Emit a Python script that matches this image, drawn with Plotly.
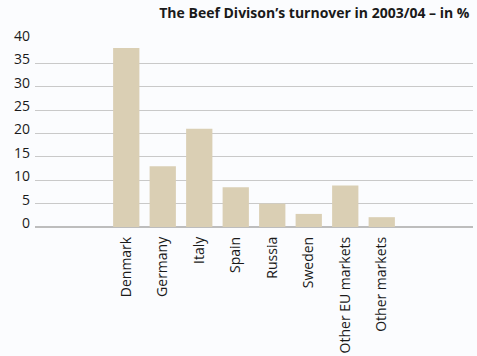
import plotly.graph_objects as go

# Share of the Beef Division's turnover by market, 2003/04 (%)
markets = ["Denmark", "Germany", "Italy", "Spain", "Russia", "Sweden",
           "Other EU markets", "Other markets"]
shares = [38.3, 13.0, 21.0, 8.5, 5.0, 2.8, 8.9, 2.1]
y_ticks = [0, 5, 10, 15, 20, 25, 30, 35, 40]

BAR = "#dacfb4"
GRID = "#c9c9c9"
BG = "#fbfcfe"
FONT = "Open Sans"

fig = go.Figure(
    go.Bar(x=markets, y=shares, marker=dict(color=BAR, line=dict(width=0)))
)

fig.update_layout(
    width=477, height=356,
    margin=dict(l=35, r=4, t=40, b=129),
    paper_bgcolor=BG, plot_bgcolor=BG,
    bargap=0.28,
    showlegend=False,
    font=dict(family=FONT, size=14, color="#1a1a1a"),
    title=dict(
        text="<b>The Beef Divison’s turnover in 2003/04 – in %</b>",
        x=0.992, xanchor="right", xref="paper",
        y=0.962, yanchor="middle",
        font=dict(family=FONT, size=14, color="#1a1a1a"),
    ),
)

fig.update_xaxes(
    type="category",
    range=[-2.5, 9.5],
    tickangle=-90,
    showgrid=False,
    showline=False,
    ticks="",
    ticklabelstandoff=6,
    tickfont=dict(family=FONT, size=14, color="#1a1a1a"),
)

fig.update_yaxes(
    range=[0, 40],
    tickvals=y_ticks,
    showgrid=True, gridcolor=GRID, gridwidth=1,
    zeroline=True, zerolinecolor="#bdbdbd", zerolinewidth=1.5,
    showline=False,
    ticks="",
    ticklabelstandoff=4,
    ticklabelshift=-4,
    tickfont=dict(family=FONT, size=14, color="#1a1a1a"),
)

fig.write_html("out.html")
